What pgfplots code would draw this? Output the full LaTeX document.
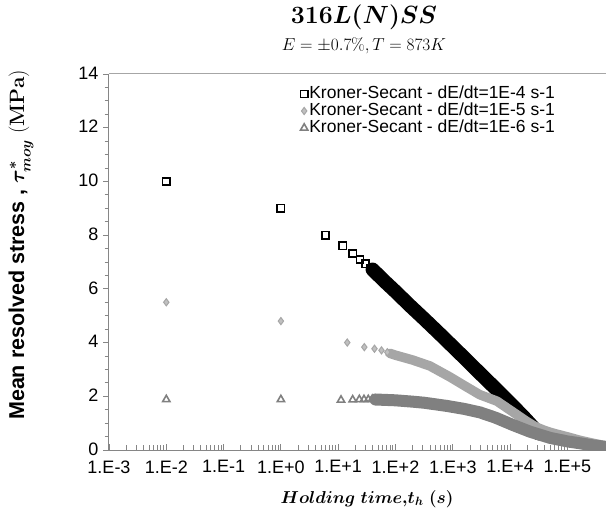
\documentclass[border=0pt]{standalone}
\usepackage{pgfplots}
\pgfplotsset{compat=1.18}
\usepackage{amsmath}
\usepackage[no-math]{fontspec}
\setmainfont{Liberation Sans}
\definecolor{axgray}{HTML}{868686}
\definecolor{lgray}{HTML}{A6A6A6}
\definecolor{lgrayfill}{HTML}{C0C0C0}
\definecolor{dgray}{HTML}{808080}
\begin{document}
\begin{tikzpicture}
\useasboundingbox (0,0) rectangle (606pt,520pt);
\begin{axis}[
  at={(109pt,70pt)}, anchor=south west,
  scale only axis, width=497pt, height=376pt,
  xmode=log, xmin=1e-3, xmax=4.72e5,
  ymin=0, ymax=14,
  ytick={0,2,...,14}, minor y tick num=3,
  xtick={1e-3,1e-2,1e-1,1,1e1,1e2,1e3,1e4,1e5},
  xticklabels={1.E-3,1.E-2,1.E-1,1.E+0,1.E+1,1.E+2,1.E+3,1.E+4,1.E+5},
  minor xtick={2e-3,3e-3,4e-3,5e-3,6e-3,7e-3,8e-3,9e-3,
    2e-2,3e-2,4e-2,5e-2,6e-2,7e-2,8e-2,9e-2,
    0.2,0.3,0.4,0.5,0.6,0.7,0.8,0.9,
    2,3,4,5,6,7,8,9,
    20,30,40,50,60,70,80,90,
    200,300,400,500,600,700,800,900,
    2000,3000,4000,5000,6000,7000,8000,9000,
    20000,30000,40000,50000,60000,70000,80000,90000,
    200000,300000,400000},
  axis x line*=bottom, axis y line*=left,
  axis line style={axgray, line width=1pt, -},
  tick style={axgray, line width=0.8pt},
  xtick align=inside, ytick align=outside,
  major tick length=6pt, minor tick length=4.5pt,
  tick label style={font=\fontsize{18}{21}\selectfont},
  xticklabel style={yshift=-7pt},
  yticklabel style={xshift=-1pt, yshift=1pt, text depth=0pt},
  /pgf/number format/assume math mode=true,
  clip=true,
  legend style={at={(0.385,0.972)}, anchor=north west, draw=none, fill=none,
    font=\fontsize{17.5}{18}\selectfont, row sep=-1.5pt, inner sep=0pt,
    nodes={inner sep=1.5pt, text height=12pt, text depth=3.5pt}},
  legend cell align=left,
]
% top border line
\draw[lgray, line width=1pt] (rel axis cs:0,1) -- (rel axis cs:1,1);

% ---- Series 1: dE/dt = 1E-4 (black squares)
\addplot[black, line width=14pt, line join=round, line cap=round, forget plot] table {
x y
39.8 6.72
63.1 6.30
100 5.90
177.8 5.38
316.2 4.88
562.3 4.37
1000 3.85
1778 3.33
3162 2.80
5623 2.28
10000 1.75
17783 1.20
31623 0.62
};
\addplot[only marks, mark=square, mark size=3.6pt, black, line width=1.6pt, mark options={fill=white}] table {
x y
0.01 10.0
1 9.0
6 8.0
12 7.6
18 7.32
24 7.1
30 6.93
36 6.78
42 6.66
48 6.56
};
\addlegendentry{Kroner-Secant - dE/dt=1E-4 s-1}

% ---- Series 2: dE/dt = 1E-5 (light gray diamonds)
\addplot[lgray, line width=9.5pt, line join=round, line cap=round, forget plot] table {
x y
79.4 3.60
100 3.53
199.5 3.35
398 3.13
891 2.72
1585 2.40
2951 2.06
5888 1.82
11482 1.40
19953 1.05
28184 0.86
39811 0.73
50119 0.66
63096 0.60
100000 0.49
165959 0.36
281838 0.25
501187 0.14
};
\addplot[only marks, mark=diamond*, mark size=3.6pt, draw=lgray, fill=lgrayfill, line width=1pt] table {
x y
0.01 5.5
1 4.8
14.4 4.0
28.6 3.83
43 3.77
57 3.71
72 3.64
};
\addlegendentry{Kroner-Secant -  dE/dt=1E-5 s-1}

% ---- Series 3: dE/dt = 1E-6 (dark gray triangles)
\addplot[dgray, line width=12pt, line join=round, line cap=round, forget plot] table {
x y
44.7 1.88
100 1.85
199.5 1.80
316.2 1.76
501 1.70
794 1.64
1585 1.53
2985 1.40
5623 1.20
11220 0.93
22387 0.68
50119 0.45
100000 0.32
165959 0.25
281838 0.17
501187 0.11
};
\addplot[only marks, mark=triangle, mark size=4.2pt, draw=dgray, line width=1.6pt, mark options={fill=white}] table {
x y
0.01 1.88
1 1.88
11.2 1.86
17.9 1.87
23.4 1.88
28.2 1.88
33.5 1.88
39.3 1.89
45 1.89
};
\addlegendentry{Kroner-Secant - dE/dt=1E-6 s-1}
\end{axis}

% titles and labels
\node at (364pt,503pt) {\fontsize{25}{30}\selectfont $\mathbf{316}\boldsymbol{L(N)SS}$};
\node at (364pt,474pt) {\fontsize{19}{22}\selectfont $E=\pm0.7\%, T=873K$};
\node at (367pt,21pt) {\fontsize{18}{21}\selectfont $\boldsymbol{Holding\;time{,}t_h\;(s)}$};
\node[rotate=90] at (21pt,275pt) {\fontsize{21.5}{24}\selectfont \textbf{Mean resolved stress ,} $\boldsymbol{\tau^{*}_{moy}}$ $\mathbf{(MPa)}$};
\end{tikzpicture}
\end{document}
